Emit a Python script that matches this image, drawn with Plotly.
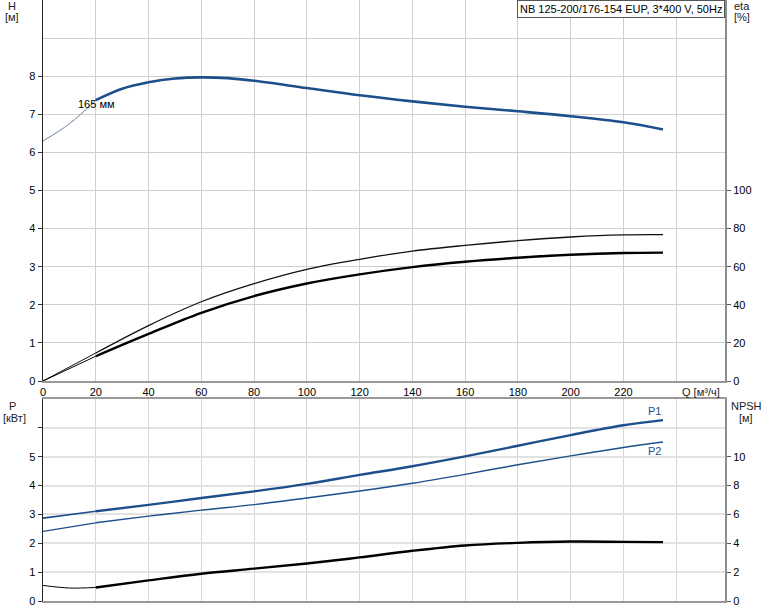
import plotly.graph_objects as go

# ---------------- data ----------------
q_h = [0, 10, 20, 30, 40, 50, 60, 70, 80, 100, 120, 140, 160, 180, 200, 220, 235]
head = [6.30, 6.75, 7.37, 7.67, 7.84, 7.94, 7.97, 7.95, 7.88, 7.69, 7.50, 7.34, 7.20, 7.08, 6.95, 6.79, 6.60]

q_eta = [0, 20, 40, 60, 80, 100, 120, 140, 160, 180, 200, 220, 235]
eta_upper = [0, 14.7, 29.1, 41.6, 51.1, 58.6, 63.9, 68.2, 71.2, 73.7, 75.6, 76.7, 76.8]
eta_lower = [0, 13.0, 24.7, 35.8, 44.6, 51.2, 56.0, 59.8, 62.6, 64.7, 66.3, 67.2, 67.4]

q_p = [0, 20, 40, 60, 80, 100, 120, 140, 160, 180, 200, 220, 235]
p1 = [2.87, 3.11, 3.33, 3.57, 3.80, 4.06, 4.37, 4.67, 5.01, 5.38, 5.75, 6.09, 6.27]
p2 = [2.41, 2.71, 2.94, 3.15, 3.34, 3.57, 3.81, 4.08, 4.39, 4.72, 5.03, 5.32, 5.51]

q_npsh = [0, 10, 20, 40, 60, 80, 100, 120, 140, 160, 180, 200, 220, 235]
npsh = [1.08, 0.90, 0.94, 1.43, 1.89, 2.24, 2.60, 3.02, 3.48, 3.85, 4.03, 4.12, 4.10, 4.08]

x_ticks = [0, 20, 40, 60, 80, 100, 120, 140, 160, 180, 200, 220]
h_ticks = [0, 1, 2, 3, 4, 5, 6, 7, 8]
eta_ticks = [0, 20, 40, 60, 80, 100]
p_ticks = [0, 1, 2, 3, 4, 5]
npsh_ticks = [0, 2, 4, 6, 8, 10]

title_text = "NB 125-200/176-154 EUP, 3*400 V, 50Hz"
impeller_text = "165 мм"
Q_SPLIT = 20  # thin part of the curves ends here

# ---------------- layout helpers ----------------
W, HGT = 774, 611
L, R, T, B = 43, 725, 0, 601
Q_MAX = 258.5


def px(x):
    return (x - L) / (R - L)


def py(y):
    return (B - y) / (B - T)


def split(qs, vs):
    thin_q = [q for q in qs if q <= Q_SPLIT]
    thin_v = [v for q, v in zip(qs, vs) if q <= Q_SPLIT]
    thick_q = [q for q in qs if q >= Q_SPLIT]
    thick_v = [v for q, v in zip(qs, vs) if q >= Q_SPLIT]
    return thin_q, thin_v, thick_q, thick_v


BLUE = "#1c4f8c"
FONT = "Liberation Sans, Arial, sans-serif"

fig = go.Figure()


def add_curve(qs, vs, xa, ya, color, thin_w, thick_w, thin_color=None, smooth=1.0):
    tq, tv, kq, kv = split(qs, vs)
    fig.add_trace(go.Scatter(x=tq, y=tv, xaxis=xa, yaxis=ya, mode="lines",
                             line=dict(color=thin_color or color, width=thin_w,
                                       shape="spline", smoothing=smooth),
                             hoverinfo="skip", showlegend=False))
    fig.add_trace(go.Scatter(x=kq, y=kv, xaxis=xa, yaxis=ya, mode="lines",
                             line=dict(color=color, width=thick_w,
                                       shape="spline", smoothing=smooth),
                             hoverinfo="skip", showlegend=False))


add_curve(q_h, head, "x", "y", BLUE, 1.0, 2.6, thin_color="#6b7ea3")
add_curve(q_eta, eta_upper, "x", "y2", "#111111", 1.0, 1.3)
add_curve(q_eta, eta_lower, "x", "y2", "#000000", 1.0, 2.4)
add_curve(q_p, p1, "x2", "y3", BLUE, 1.6, 2.4)
add_curve(q_p, p2, "x2", "y3", BLUE, 1.3, 1.4)
add_curve(q_npsh, npsh, "x2", "y4", "#000000", 1.0, 2.4)

tickfont = dict(family=FONT, size=11, color="#000000")
GRID = "#cfcfcf"

fig.update_layout(
    width=W, height=HGT,
    margin=dict(l=L, r=W - R, t=T, b=HGT - B, autoexpand=False),
    paper_bgcolor="white", plot_bgcolor="white",
    showlegend=False,
    font=dict(family=FONT, size=11, color="#000000"),
    xaxis=dict(domain=[0, 1], anchor="y", range=[0, Q_MAX], automargin=False,
               tickmode="array", tickvals=x_ticks, ticks="",
               showgrid=True, gridcolor=GRID, gridwidth=1,
               minor=dict(tickmode="array", tickvals=[240], showgrid=True,
                          gridcolor=GRID, gridwidth=1, ticks=""),
               showline=True, linecolor="#999999", linewidth=2,
               zeroline=False, tickfont=tickfont),
    yaxis=dict(domain=[py(381), 1], anchor="x", range=[0, 10], automargin=False,
               tickmode="array", tickvals=h_ticks,
               ticks="outside", ticklen=4, tickcolor="#333333",
               showgrid=True, gridcolor=GRID, gridwidth=1,
               minor=dict(tickmode="array", tickvals=[9, 10], showgrid=True,
                          gridcolor=GRID, gridwidth=1, ticks=""),
               showline=True, linecolor="#222222", linewidth=1.5,
               zeroline=False, tickfont=tickfont),
    yaxis2=dict(overlaying="y", side="right", anchor="x", range=[0, 200], automargin=False,
                tickmode="array", tickvals=eta_ticks,
                ticks="outside", ticklen=4, tickcolor="#555555",
                showgrid=False, showline=True, linecolor="#8c8c8c", linewidth=2,
                zeroline=False, tickfont=tickfont),
    xaxis2=dict(domain=[0, 1], anchor="y3", range=[0, Q_MAX], automargin=False,
                tickmode="array", tickvals=x_ticks + [240], ticks="",
                showticklabels=False,
                showgrid=True, gridcolor="#d6d6d6", gridwidth=1,
                showline=True, mirror=True, linecolor="#999999", linewidth=2,
                zeroline=False),
    yaxis3=dict(domain=[0, py(399)], anchor="x2", range=[0, 7], automargin=False,
                tickmode="array", tickvals=p_ticks,
                ticks="outside", ticklen=4, tickcolor="#333333",
                showgrid=True, gridcolor="#e2e2e2", gridwidth=2,
                minor=dict(tickmode="array", tickvals=[6], showgrid=True,
                           gridcolor="#e2e2e2", gridwidth=2, ticks="outside",
                           ticklen=4, tickcolor="#333333"),
                showline=True, linecolor="#222222", linewidth=1.5,
                zeroline=False, tickfont=tickfont),
    yaxis4=dict(overlaying="y3", side="right", anchor="x2", range=[0, 14], automargin=False,
                tickmode="array", tickvals=npsh_ticks,
                ticks="outside", ticklen=4, tickcolor="#555555",
                showgrid=False, showline=True, linecolor="#8c8c8c", linewidth=2,
                zeroline=False, tickfont=tickfont),
)

annots = [
    dict(text="H", x=px(12), y=py(6)),
    dict(text="[м]", x=px(12), y=py(17)),
    dict(text="eta", x=px(742), y=py(6)),
    dict(text="[%]", x=px(742), y=py(17)),
    dict(text="P", x=px(12), y=py(406)),
    dict(text="[кВт]", x=px(14), y=py(418)),
    dict(text="NPSH", x=px(746), y=py(406)),
    dict(text="[м]", x=px(746), y=py(418)),
]
for a in annots:
    fig.add_annotation(xref="paper", yref="paper", x=a["x"], y=a["y"], text=a["text"],
                       showarrow=False, xanchor="center", yanchor="middle",
                       font=dict(family=FONT, size=11, color="#222222"))

fig.add_annotation(xref="paper", yref="paper", x=px(722), y=py(392), text="Q [м³/ч]",
                   showarrow=False, xanchor="right", yanchor="middle",
                   font=dict(family=FONT, size=11, color="#222222"))

fig.add_annotation(xref="paper", yref="paper", x=1, y=1, text=title_text,
                   showarrow=False, xanchor="right", yanchor="top",
                   bgcolor="white", bordercolor="#555555", borderwidth=1, borderpad=2,
                   font=dict(family=FONT, size=11, color="#000000"))

fig.add_annotation(x=12.5, y=7.27, xref="x", yref="y", text=impeller_text,
                   showarrow=False, xanchor="left", yanchor="middle",
                   font=dict(family=FONT, size=11, color="#000000"))

fig.add_annotation(x=q_p[-1], y=p1[-1], xref="x2", yref="y3", text="P1",
                   showarrow=False, xanchor="right", yanchor="bottom", yshift=1,
                   font=dict(family=FONT, size=11, color=BLUE))
fig.add_annotation(x=q_p[-1], y=p2[-1], xref="x2", yref="y3", text="P2",
                   showarrow=False, xanchor="right", yanchor="top", yshift=-1,
                   font=dict(family=FONT, size=11, color=BLUE))

fig.write_html("out.html",
               config={"displayModeBar": False, "staticPlot": True},
               post_script="document.body.style.margin='0';document.body.style.overflow='hidden';")
